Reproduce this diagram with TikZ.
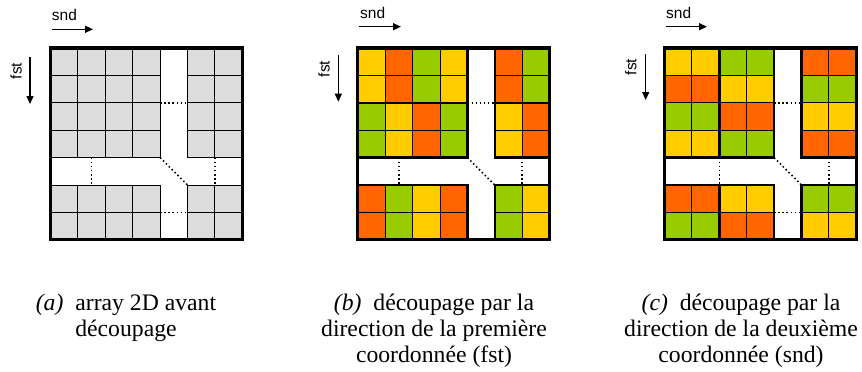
\documentclass[tikz,border=0pt]{standalone}
\usepackage{fontspec}
\setmainfont{Liberation Serif}
\setsansfont{Liberation Sans}
\newfontfamily\capfont{Liberation Serif}
\newfontfamily\axfont{Liberation Sans}
\usetikzlibrary{arrows.meta}
\definecolor{cY}{HTML}{FFCC00}
\definecolor{cO}{HTML}{FF6600}
\definecolor{cG}{HTML}{99CC00}
\definecolor{cN}{HTML}{DCDCDC}
\newcommand\cellsrow[7]{%
  \foreach \cc/\col in {0/#2,1/#3,2/#4,3/#5,5/#6,6/#7}{%
    \filldraw[cellline, fill=\col] (\cc,#1) rectangle ++(1,1);}}
\tikzset{
  cellline/.style={line width=0.9pt, draw=black},
  blockline/.style={line width=2.6pt, draw=black},
  frameline/.style={line width=3.3pt, draw=black},
  dotline/.style={line width=1.5pt, dash pattern=on 1.5pt off 2.6pt},
  axarrow/.style={line width=1.3pt, -{Triangle[length=8pt,width=7pt]}},
  axlabel/.style={font=\axfont\fontsize{15.5}{18}\selectfont, inner sep=0pt},
  caplabel/.style={font=\capfont\fontsize{23.7}{26}\selectfont, inner sep=0pt, anchor=base},
  panel/.style={x=27.4pt, y=-27.4pt}
}
\begin{document}
\begin{tikzpicture}[x=1pt, y=-1pt]
\useasboundingbox (0,0) rectangle (862,372);

% ---------- panel (a)
\begin{scope}[shift={(50.5pt,-48pt)}, panel]
  \foreach \r in {0,1,2,3,5,6}{\cellsrow{\r}{cN}{cN}{cN}{cN}{cN}{cN}}
  \draw[frameline] (0,0) rectangle (7,7);
  \draw[dotline] (4,2) -- (5,2);
  \draw[dotline] (4,6) -- (5,6);
  \draw[dotline] (1.5,4) -- (1.5,5);
  \draw[dotline] (6,4) -- (6,5);
  \draw[dotline] (4,4) -- (5,5);
\end{scope}

% ---------- panel (b)
\begin{scope}[shift={(357.8pt,-48pt)}, panel]
  \cellsrow{0}{cY}{cO}{cG}{cY}{cO}{cG}
  \cellsrow{1}{cY}{cO}{cG}{cY}{cO}{cG}
  \cellsrow{2}{cG}{cY}{cO}{cG}{cY}{cO}
  \cellsrow{3}{cG}{cY}{cO}{cG}{cY}{cO}
  \cellsrow{5}{cO}{cG}{cY}{cO}{cG}{cY}
  \cellsrow{6}{cO}{cG}{cY}{cO}{cG}{cY}
  \draw[blockline] (0,0) rectangle (4,2);
  \draw[blockline] (0,2) rectangle (4,4);
  \draw[blockline] (5,0) rectangle (7,2);
  \draw[blockline] (5,2) rectangle (7,4);
  \draw[blockline] (0,5) rectangle (4,7);
  \draw[blockline] (5,5) rectangle (7,7);
  \draw[frameline] (0,0) rectangle (7,7);
  \draw[dotline] (4,2) -- (5,2);
  \draw[dotline] (1.5,4) -- (1.5,5);
  \draw[dotline] (6,4) -- (6,5);
  \draw[dotline] (4,4) -- (5,5);
\end{scope}

% ---------- panel (c)
\begin{scope}[shift={(664.5pt,-48pt)}, panel]
  \cellsrow{0}{cY}{cY}{cG}{cG}{cO}{cO}
  \cellsrow{1}{cO}{cO}{cY}{cY}{cG}{cG}
  \cellsrow{2}{cG}{cG}{cO}{cO}{cY}{cY}
  \cellsrow{3}{cY}{cY}{cG}{cG}{cO}{cO}
  \cellsrow{5}{cO}{cO}{cY}{cY}{cG}{cG}
  \cellsrow{6}{cG}{cG}{cO}{cO}{cY}{cY}
  \draw[blockline] (0,0) rectangle (2,4);
  \draw[blockline] (2,0) rectangle (4,4);
  \draw[blockline] (5,0) rectangle (7,4);
  \draw[blockline] (0,5) rectangle (2,7);
  \draw[blockline] (2,5) rectangle (4,7);
  \draw[blockline] (5,5) rectangle (7,7);
  \draw[frameline] (0,0) rectangle (7,7);
  \draw[dotline] (4,2) -- (5,2);
  \draw[dotline] (4,6) -- (5,6);
  \draw[dotline] (2,4) -- (2,5);
  \draw[dotline] (6,4) -- (6,5);
  \draw[dotline] (4,4) -- (5,5);
\end{scope}

% ---------- axis labels and arrows
\node[axlabel, anchor=base west] (a-snd) at (51.7,20.7) {snd};
\coordinate (a-snd-s) at (52,29.3);
\coordinate (a-snd-e) at (93,29.3);
\draw[axarrow] (a-snd-s) -- (a-snd-e);
\node[axlabel, rotate=90] (a-fst) at (16,71) {fst};
\coordinate (a-fst-s) at (30,57.3);
\coordinate (a-fst-e) at (30,104);
\draw[axarrow] (a-fst-s) -- (a-fst-e);

\node[axlabel, anchor=base west] (b-snd) at (360,18.3) {snd};
\coordinate (b-snd-s) at (359.3,26.7);
\coordinate (b-snd-e) at (401,26.7);
\draw[axarrow] (b-snd-s) -- (b-snd-e);
\node[axlabel, rotate=90] (b-fst) at (324,69) {fst};
\coordinate (b-fst-s) at (338.3,55);
\coordinate (b-fst-e) at (338.3,101.7);
\draw[axarrow] (b-fst-s) -- (b-fst-e);

\node[axlabel, anchor=base west] (c-snd) at (666,18.3) {snd};
\coordinate (c-snd-s) at (666,26.7);
\coordinate (c-snd-e) at (707,26.7);
\draw[axarrow] (c-snd-s) -- (c-snd-e);
\node[axlabel, rotate=90] (c-fst) at (630.8,67) {fst};
\coordinate (c-fst-s) at (645.7,54.3);
\coordinate (c-fst-e) at (645.7,100);
\draw[axarrow] (c-fst-s) -- (c-fst-e);

% ---------- captions
\node[caplabel] (cap-a1) at (126,310) {\textit{(a)}\hspace{0.5em}array 2D avant};
\node[caplabel] (cap-a2) at (126,336) {découpage};
\node[caplabel] (cap-b1) at (434,310) {\textit{(b)}\hspace{0.5em}découpage par la};
\node[caplabel] (cap-b2) at (434,336) {direction de la première};
\node[caplabel] (cap-b3) at (434,362) {coordonnée (fst)};
\node[caplabel] (cap-c1) at (741,310) {\textit{(c)}\hspace{0.5em}découpage par la};
\node[caplabel] (cap-c2) at (741,336) {direction de la deuxième};
\node[caplabel] (cap-c3) at (741,362) {coordonnée (snd)};
\end{tikzpicture}
\end{document}
